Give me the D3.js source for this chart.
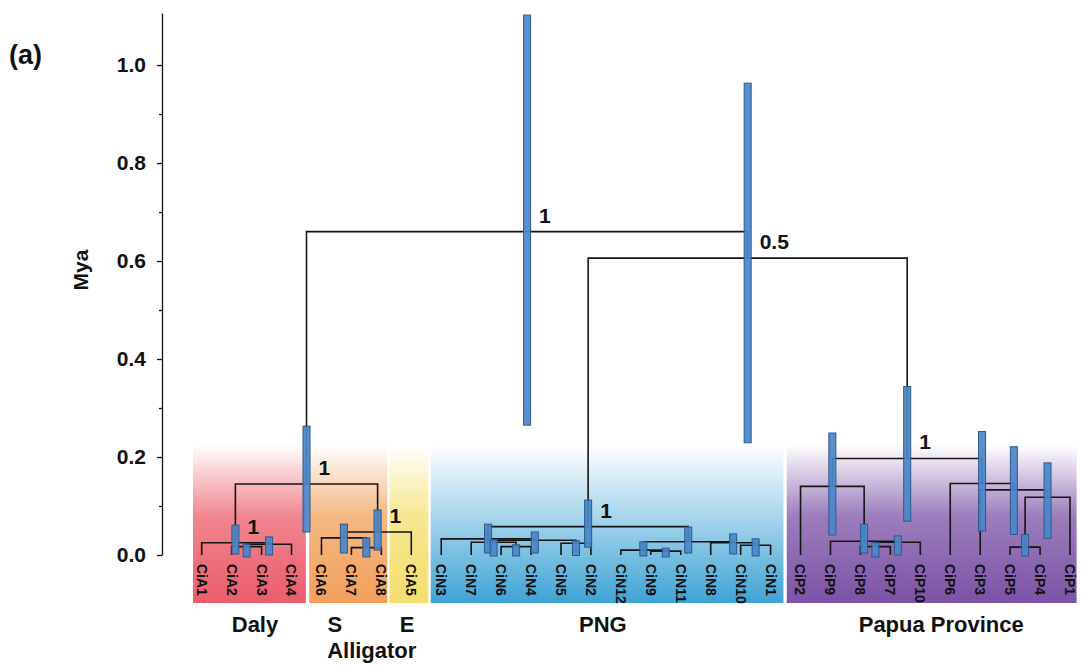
<!DOCTYPE html>
<html>
<head>
<meta charset="utf-8">
<script src="https://cdn.jsdelivr.net/npm/d3@7"></script>
<style>
  body { margin: 0; background: #fff; }
  text { font-family: Arial, "Liberation Sans", sans-serif; font-weight: bold; fill: #111; }
</style>
</head>
<body>
<div id="chart"></div>
<script>
// tips, left to right
var leaves = ["CiA1", "CiA2", "CiA3", "CiA4", "CiA6", "CiA7", "CiA8", "CiA5",
  "CiN3", "CiN7", "CiN6", "CiN4", "CiN5", "CiN2", "CiN12", "CiN9", "CiN11", "CiN8", "CiN10", "CiN1",
  "CiP2", "CiP9", "CiP8", "CiP7", "CiP10", "CiP6", "CiP3", "CiP5", "CiP4", "CiP1"];

// internal nodes: id, two children, age (Mya), 95% HPD low / high, posterior
var nodes = [
  {id: "root",  kids: ["aus", "ng"],      age: 0.660, hpd: [0.265, 1.102], pp: "1"},
  {id: "aus",   kids: ["daly", "alli"],   age: 0.145, hpd: [0.047, 0.263], pp: "1"},
  {id: "daly",  kids: ["CiA1", "d2"],     age: 0.025, hpd: [0.002, 0.061], pp: "1"},
  {id: "d2",    kids: ["d3", "CiA4"],     age: 0.022, hpd: [0.000, 0.037]},
  {id: "d3",    kids: ["CiA2", "CiA3"],   age: 0.017, hpd: [-0.004, 0.022]},
  {id: "alli",  kids: ["s", "CiA5"],      age: 0.047, hpd: [0.010, 0.092], pp: "1"},
  {id: "s",     kids: ["CiA6", "s2"],     age: 0.035, hpd: [0.004, 0.063]},
  {id: "s2",    kids: ["CiA7", "CiA8"],   age: 0.015, hpd: [-0.004, 0.035]},
  {id: "ng",    kids: ["png", "papua"],   age: 0.606, hpd: [0.229, 0.963], pp: "0.5"},
  {id: "png",   kids: ["n1", "n2"],       age: 0.058, hpd: [0.016, 0.112], pp: "1"},
  {id: "n1",    kids: ["CiN3", "n1b"],    age: 0.033, hpd: [0.004, 0.063]},
  {id: "n1b",   kids: ["n1c", "n1d"],     age: 0.030, hpd: [0.004, 0.047]},
  {id: "n1c",   kids: ["CiN7", "n1e"],    age: 0.026, hpd: [-0.002, 0.031]},
  {id: "n1e",   kids: ["CiN6", "CiN4"],   age: 0.017, hpd: [-0.002, 0.021]},
  {id: "n1d",   kids: ["CiN5", "CiN2"],   age: 0.024, hpd: [-0.001, 0.029]},
  {id: "n2",    kids: ["n2a", "n2b"],     age: 0.027, hpd: [0.004, 0.057]},
  {id: "n2a",   kids: ["CiN12", "n2c"],   age: 0.010, hpd: [-0.002, 0.027]},
  {id: "n2c",   kids: ["CiN9", "CiN11"],  age: 0.008, hpd: [-0.004, 0.014]},
  {id: "n2b",   kids: ["CiN8", "n2d"],    age: 0.025, hpd: [0.002, 0.043]},
  {id: "n2d",   kids: ["CiN10", "CiN1"],  age: 0.020, hpd: [-0.002, 0.033]},
  {id: "papua", kids: ["p1", "p2"],       age: 0.197, hpd: [0.069, 0.344], pp: "1"},
  {id: "p1",    kids: ["CiP2", "q"],      age: 0.140, hpd: [0.041, 0.249]},
  {id: "q",     kids: ["CiP9", "r"],      age: 0.028, hpd: [0.004, 0.063]},
  {id: "r",     kids: ["rb", "CiP10"],    age: 0.026, hpd: [0.000, 0.039]},
  {id: "rb",    kids: ["CiP8", "CiP7"],   age: 0.017, hpd: [-0.004, 0.025]},
  {id: "p2",    kids: ["CiP6", "p3"],     age: 0.146, hpd: [0.049, 0.252]},
  {id: "p3",    kids: ["CiP3", "t"],      age: 0.133, hpd: [0.042, 0.221]},
  {id: "t",     kids: ["tb", "CiP1"],     age: 0.118, hpd: [0.034, 0.188]},
  {id: "tb",    kids: ["CiP5", "CiP4"],   age: 0.016, hpd: [-0.002, 0.042]}
];

// coloured regions behind the tips (extent in tip-index units)
var regions      = ["Daly", "S", "E", "PNG", "Papua Province"];
var regionFrom   = [-0.29, 3.59, 6.27, 7.65, 19.54];
var regionTo     = [3.48, 6.20, 7.57, 19.43, 29.22];
var regionColors = ["#ec5d6b", "#f2a05a", "#f3df6c", "#3fa3d5", "#7b52a6"];
var labelAt      = [1.78, 4.45, 6.86, 13.4, 24.7];

var majorTicks = [0, 0.2, 0.4, 0.6, 0.8, 1.0];
var allTicks = [0, 0.1, 0.2, 0.3, 0.4, 0.5, 0.6, 0.7, 0.8, 0.9, 1.0];

var W = 1081, H = 667;
var svg = d3.select("#chart").append("svg")
  .attr("width", W).attr("height", H);

var x = d3.scaleLinear().domain([0, leaves.length - 1]).range([201.7, 1070]);
var y = d3.scaleLinear().domain([0, 1.106]).range([555, 13.1]);

// node positions
var byId = {};
nodes.forEach(function(n){ byId[n.id] = n; });
var pos = {};
leaves.forEach(function(d, i){ pos[d] = {x: x(i), age: 0}; });
function place(id) {
  if (pos[id]) return pos[id];
  var n = byId[id];
  var a = place(n.kids[0]), b = place(n.kids[1]);
  pos[id] = {x: (a.x + b.x) / 2, age: n.age};
  return pos[id];
}
place("root");

// gradients + panels
var defs = svg.append("defs");
regionColors.forEach(function(c, i){
  var g = defs.append("linearGradient").attr("id", "grad" + i)
    .attr("x1", 0).attr("y1", 0).attr("x2", 0).attr("y2", 1);
  g.append("stop").attr("offset", "0%").attr("stop-color", c).attr("stop-opacity", 0);
  g.append("stop").attr("offset", "45%").attr("stop-color", c).attr("stop-opacity", i == 3 ? 0.45 : 0.75);
  g.append("stop").attr("offset", "100%").attr("stop-color", c).attr("stop-opacity", 1);
});

var panelTop = y(0.225), panelBottom = 603;
svg.append("g").selectAll("rect")
  .data(regions)
  .enter().append("rect")
  .attr("x", function(d, i){ return x(regionFrom[i]); })
  .attr("width", function(d, i){ return x(regionTo[i]) - x(regionFrom[i]); })
  .attr("y", panelTop)
  .attr("height", panelBottom - panelTop)
  .style("fill", function(d, i){ return "url(#grad" + i + ")"; });

// y axis
function isMajor(d) {
  return majorTicks.some(function(m){ return Math.abs(m - d) < 1e-9; });
}
var axis = d3.axisLeft(y)
  .tickValues(allTicks)
  .tickSize(5)
  .tickSizeOuter(0)
  .tickPadding(11)
  .tickFormat(function(d){ return isMajor(d) ? d3.format(".1f")(d) : ""; });

var ax = svg.append("g")
  .attr("transform", "translate(162,0)")
  .call(axis);
ax.select(".domain").attr("stroke", "#111").attr("stroke-width", 1.3);
ax.selectAll(".tick line").attr("stroke", "#111").attr("stroke-width", 1.3)
  .attr("x2", function(d){ return isMajor(d) ? -5 : -3; });
ax.selectAll(".tick text")
  .style("font-size", "21px")
  .style("font-weight", "bold")
  .style("font-family", "Arial, 'Liberation Sans', sans-serif")
  .attr("fill", "#111");

svg.append("text")
  .attr("transform", "translate(88,270) rotate(-90)")
  .attr("text-anchor", "middle")
  .style("font-size", "21px")
  .text("Mya");

svg.append("text")
  .attr("x", 9).attr("y", 64)
  .style("font-size", "27px")
  .text("(a)");

// branches
var links = [];
nodes.forEach(function(n){
  n.kids.forEach(function(k){ links.push({p: pos[n.id], c: pos[k]}); });
});
svg.append("g").selectAll("path")
  .data(links)
  .enter().append("path")
  .attr("d", function(d){
    return "M" + d.c.x + "," + y(d.c.age) + "V" + y(d.p.age) + "H" + d.p.x;
  })
  .attr("fill", "none")
  .attr("stroke", "#151515")
  .attr("stroke-width", 1.6);

// HPD bars
svg.append("g").selectAll("rect")
  .data(nodes)
  .enter().append("rect")
  .attr("x", function(d){ return pos[d.id].x - 3.5; })
  .attr("width", 7)
  .attr("y", function(d){ return y(d.hpd[1]); })
  .attr("height", function(d){ return y(d.hpd[0]) - y(d.hpd[1]); })
  .attr("fill", "#4a87c8")
  .attr("fill-opacity", 0.92)
  .attr("stroke", "#2b5a8e")
  .attr("stroke-width", 1);

// posterior labels
svg.append("g").selectAll("text")
  .data(nodes.filter(function(d){ return d.pp; }))
  .enter().append("text")
  .attr("x", function(d){ return pos[d.id].x + 12; })
  .attr("y", function(d){ return y(d.age) - 9; })
  .style("font-size", "21px")
  .text(function(d){ return d.pp; });

// tip labels
svg.append("g").selectAll("text")
  .data(leaves)
  .enter().append("text")
  .attr("transform", function(d, i){ return "translate(" + x(i) + ",564) rotate(90)"; })
  .attr("dy", "0.36em")
  .style("font-family", "'Liberation Sans Narrow', 'Arial Narrow', Arial, sans-serif")
  .style("font-size", "14px")
  .text(function(d){ return d; });

// region labels
svg.append("g").selectAll("text")
  .data(regions)
  .enter().append("text")
  .attr("x", function(d, i){ return x(labelAt[i]); })
  .attr("y", 632)
  .attr("text-anchor", "middle")
  .style("font-size", "22px")
  .text(function(d){ return d; });

svg.append("text")
  .attr("x", x(5.68)).attr("y", 658)
  .attr("text-anchor", "middle")
  .style("font-size", "22px")
  .text("Alligator");
</script>
</body>
</html>
